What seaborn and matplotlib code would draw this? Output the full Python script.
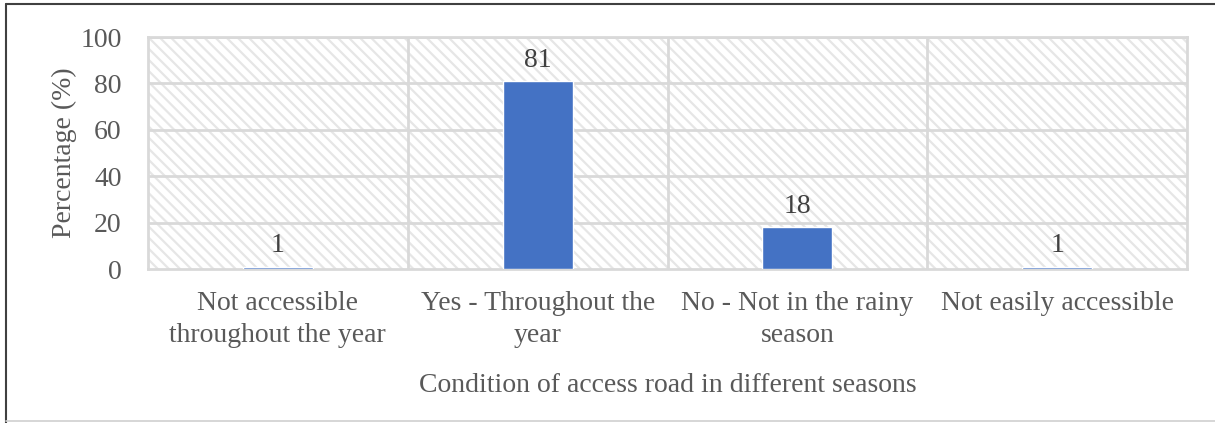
import matplotlib
matplotlib.use("Agg")
import matplotlib.pyplot as plt
from matplotlib.patches import Rectangle
from matplotlib.lines import Line2D
import seaborn as sns
import pandas as pd

categories = [
    "Not accessible\nthroughout the year",
    "Yes - Throughout the\nyear",
    "No - Not in the rainy\nseason",
    "Not easily accessible",
]
percentages = [1, 81, 18, 1]
y_ticks = [0, 20, 40, 60, 80, 100]

sns.set_theme(style="white")
plt.rcParams["font.family"] = ["Liberation Serif", "DejaVu Serif"]
plt.rcParams["hatch.linewidth"] = 1.6

text_color = "#595959"
grid_color = "#D9D9D9"
bar_color = "#4472C4"
fs = 20

df = pd.DataFrame({"category": categories, "pct": percentages})

fig = plt.figure(figsize=(12.15, 4.23), dpi=100)
ax = fig.add_axes([0.1218, 0.364, 0.8552, 0.5485])

# hatched plot-area background
ax.add_patch(Rectangle((0, 0), 1, 1, transform=ax.transAxes, facecolor="white",
                       edgecolor="#E6E6E6", hatch="\\\\\\", lw=0, zorder=0))

sns.barplot(data=df, x="category", y="pct", color=bar_color, width=0.27,
            saturation=1, ax=ax, zorder=3)

ax.set_ylim(0, 100)
ax.set_xlim(-0.5, len(categories) - 0.5)
ax.set_yticks(y_ticks)
ax.set_yticklabels([str(v) for v in y_ticks], fontsize=fs, color=text_color)
ax.tick_params(axis="x", labelsize=fs, labelcolor=text_color, length=0, pad=16)
ax.tick_params(axis="y", length=0, pad=19)
for lbl in ax.get_xticklabels():
    lbl.set_linespacing(1.38)

# gridlines: horizontal at ticks, vertical between categories
for v in y_ticks[1:]:
    ax.axhline(v, color=grid_color, lw=2, zorder=1)
for b in [0.5, 1.5, 2.5]:
    ax.axvline(b, color=grid_color, lw=2, zorder=1)
for s in ax.spines.values():
    s.set_color(grid_color)
    s.set_linewidth(2)
    s.set_zorder(2)

# value labels above the bars
for i, v in enumerate(percentages):
    ax.annotate(str(v), (i, v), xytext=(0, 6), textcoords="offset points",
                ha="center", va="bottom", fontsize=fs, color="#404040")

ax.set_ylabel("Percentage (%)", fontsize=fs, color=text_color, labelpad=2)
ax.set_xlabel("Condition of access road in different seasons", fontsize=fs,
              color=text_color, labelpad=18)

# outer frame
fig.add_artist(Line2D([0.0053, 0.0053], [0.0, 0.99], transform=fig.transFigure,
                      color="#404040", lw=1.5))
fig.add_artist(Line2D([0.0053, 1.0], [0.99, 0.99], transform=fig.transFigure,
                      color="#404040", lw=1.5))
fig.add_artist(Line2D([0.0053, 1.0], [0.004, 0.004], transform=fig.transFigure,
                      color="#D0D0D0", lw=1.2))

fig.savefig("out.png", dpi=100, facecolor="white")
